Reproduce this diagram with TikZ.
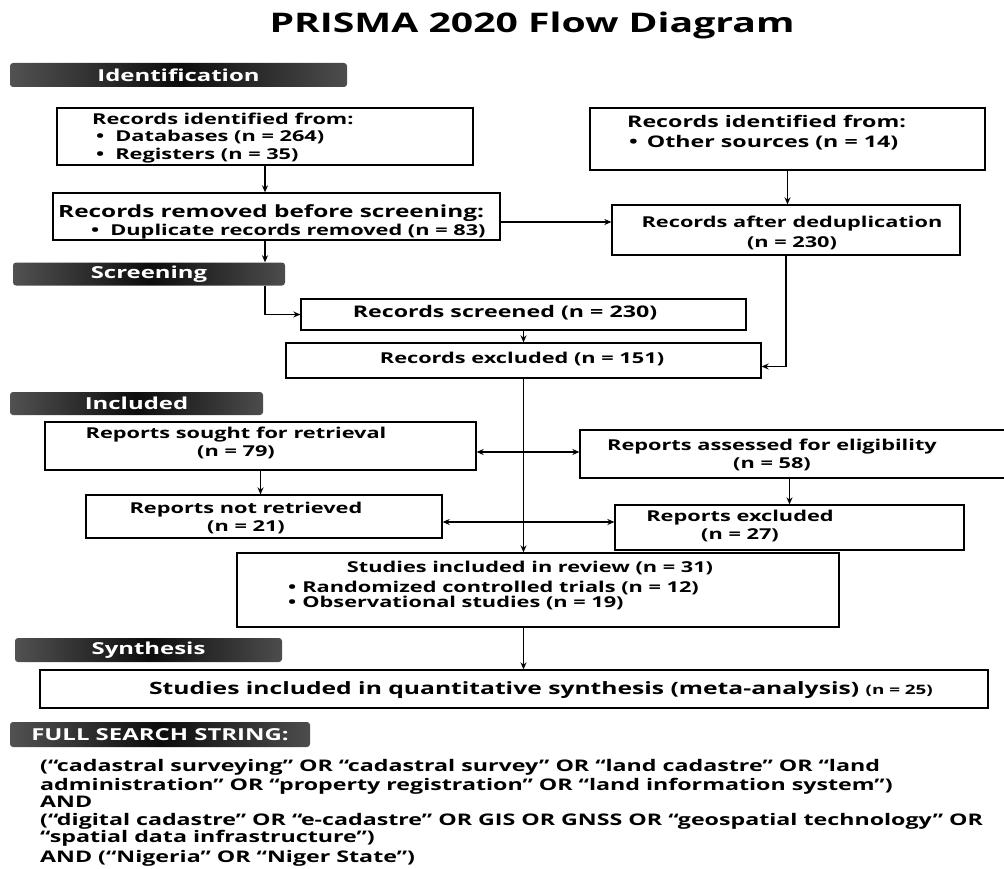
\documentclass[tikz,border=0pt]{standalone}
\usepackage{fontspec}
\setmainfont{Open Sans}[FakeStretch=1.45]
\usetikzlibrary{arrows.meta,calc}
\begin{document}
\begin{tikzpicture}[x=1pt,y=-1pt,
  box/.style={draw=black, line width=1.3pt, fill=white, inner sep=0pt},
  lab/.style={rounded corners=3pt, left color=black!68, right color=black!70, middle color=black!95, text=white, font=\bfseries\fontsize{16.5}{18}\selectfont, inner sep=0pt},
  txt/.style={font=\bfseries\fontsize{15}{17.5}\selectfont, inner sep=0pt},
  stxt/.style={font=\bfseries\fontsize{16}{18}\selectfont, inner sep=0pt},
  arr/.style={line width=1.3pt, -{Stealth[length=7pt,width=6pt]}},
  darr/.style={line width=1.3pt, {Stealth[length=7pt,width=6pt]}-{Stealth[length=7pt,width=6pt]}},
]
\useasboundingbox (0,0) rectangle (1004,869);

% title
\node[font=\bfseries\fontsize{27}{32}\selectfont, inner sep=0pt] (title) at (532,25) {PRISMA 2020 Flow Diagram};

% section labels
\node[lab, minimum width=337pt, minimum height=24pt] (lid) at (178.5,75) {Identification};
\node[lab, minimum width=272pt, minimum height=23pt] (lsc) at (149,274) {Screening};
\node[lab, minimum width=253pt, minimum height=23pt] (lin) at (136.5,403.5) {Included};
\node[lab, minimum width=267pt, minimum height=24pt] (lsy) at (148.5,650) {Synthesis};
\node[lab, minimum width=300pt, minimum height=25pt] (lfs) at (160,734.5) {FULL SEARCH STRING:};

% boxes
\node[box, minimum width=416pt, minimum height=57pt] (b1) at (265,136.5) {};
\node[box, minimum width=395pt, minimum height=62pt] (b2) at (787.5,139) {};
\node[box, minimum width=447pt, minimum height=47pt] (b3) at (276.5,216.5) {};
\node[box, minimum width=348pt, minimum height=50pt] (b4) at (786,230) {};
\node[box, minimum width=445pt, minimum height=31pt] (b5) at (523.5,314.5) {};
\node[box, minimum width=475pt, minimum height=35pt] (b6) at (523.5,360.5) {};
\node[box, minimum width=431pt, minimum height=48pt] (b7) at (260.5,446) {};
\node[box, minimum width=432pt, minimum height=48pt] (b8) at (796,454) {};
\node[box, minimum width=356pt, minimum height=43pt] (b9) at (264,516.5) {};
\node[box, minimum width=349pt, minimum height=45pt] (b10) at (789.5,527.5) {};
\node[box, minimum width=602pt, minimum height=74pt] (b11) at (538,590) {};
\node[box, minimum width=948pt, minimum height=38pt] (b12) at (514,689) {};

% box texts
\node[txt, anchor=west, align=left] (t1) at (92,138) {Records identified from:\\\hspace*{4pt}•\hspace{11pt}Databases (n = 264)\\\hspace*{4pt}•\hspace{11pt}Registers (n = 35)};
\node[txt, anchor=west, align=left, font=\bfseries\fontsize{16}{20}\selectfont] (t2) at (627,133) {Records identified from:\\\hspace*{2pt}•\hspace{9pt}Other sources (n = 14)};
\node[txt, anchor=west, align=left, font=\bfseries\fontsize{15}{18}\selectfont] (t3) at (58,222) {{\fontsize{16.8}{18}\selectfont Records removed before screening:}\\\hspace*{33pt}•\hspace{11pt}Duplicate records removed (n = 83)};
\node[txt, align=center, font=\bfseries\fontsize{15}{20}\selectfont] (t4) at (792,233) {Records after deduplication\\(n = 230)};
\node[txt, font=\bfseries\fontsize{16}{18}\selectfont] (t5) at (505,313) {Records screened (n = 230)};
\node[txt] (t6) at (522,359) {Records excluded (n = 151)};
\node[txt, align=center] (t7) at (236,443) {Reports sought for retrieval\\(n = 79)};
\node[txt, align=center] (t8) at (772,455) {Reports assessed for eligibility\\(n = 58)};
\node[txt, align=center] (t9) at (246,518) {Reports not retrieved\\(n = 21)};
\node[txt, align=center] (t10) at (740,526) {Reports excluded\\(n = 27)};
\node[txt] (t11) at (530,568) {Studies included in review (n = 31)};
\node[txt, anchor=west, align=left, font=\bfseries\fontsize{15}{15}\selectfont] (t11b) at (288,595) {•\hspace{6pt}Randomized controlled trials (n = 12)\\•\hspace{6pt}Observational studies (n = 19)};
\node[txt, font=\bfseries\fontsize{17}{20}\selectfont] (t12) at (541,690) {Studies included in quantitative synthesis (meta-analysis) {\fontsize{13}{14}\selectfont(n = 25)}};

% search string
\node[stxt, anchor=base west] (s1) at (40,771) {(“cadastral surveying” OR “cadastral survey” OR “land cadastre” OR “land};
\node[stxt, anchor=base west] (s2) at (40,790) {administration” OR “property registration” OR “land information system”)};
\node[stxt, anchor=base west] (s3) at (40,807) {AND};
\node[stxt, anchor=base west] (s4) at (40,825) {(“digital cadastre” OR “e-cadastre” OR GIS OR GNSS OR “geospatial technology” OR};
\node[stxt, anchor=base west] (s5) at (40,842) {“spatial data infrastructure”)};
\node[stxt, anchor=base west] (s6) at (40,862) {AND (“Nigeria” OR “Niger State”)};

% connectors
\draw[arr] (b1.south) -- (b1.south |- b3.north);
\draw[arr] (b2.south) -- (b2.south |- b4.north);
\draw[arr] ([yshift=-5.5pt]b3.east) -- ([yshift=-5.5pt]b3.east -| b4.west);
\draw[arr] (b1.south |- b3.south) -- (b1.south |- lsc.north);
\draw[arr] (b1.south |- lsc.south) |- (b5.west);
\draw[arr] (b5.south) -- (b6.north);
\draw[arr] (b4.south) |- ([yshift=-6pt]b6.east);
\draw[arr] (b6.south) -- (b6.south |- b11.north);
\draw[darr] ([yshift=-6pt]b7.east) -- ([yshift=-6pt]b7.east -| b8.west);
\draw[arr] (b7.south) -- (b7.south |- b9.north);
\draw[arr] (b10.north |- b8.south) -- (b10.north);
\draw[darr] ([yshift=-5.5pt]b9.east) -- ([yshift=-5.5pt]b9.east -| b10.west);
\draw[arr] (b6.south |- b11.south) -- (b6.south |- b12.north);
\end{tikzpicture}
\end{document}
